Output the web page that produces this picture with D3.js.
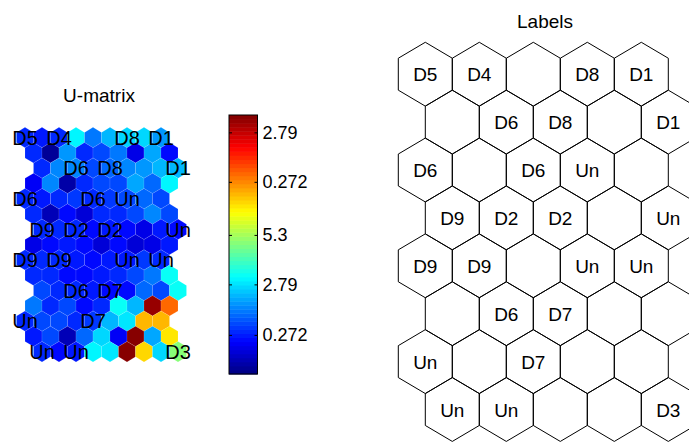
<!DOCTYPE html>
<html>
<head>
<meta charset="utf-8">
<script src="https://cdn.jsdelivr.net/npm/d3@7"></script>
<style>
  body { margin: 0; background: #fff; }
  svg { display: block; font-family: "Liberation Sans", Arial, Helvetica, sans-serif; }
</style>
</head>
<body>
<div id="chart"></div>
<script>
// U-matrix values (normalised 0..1), 15 rows x 9 columns
var umat = [
    [0.16, 0.15, 0.17, 0.37, 0.235, 0.30, 0.33, 0.34, 0.27],
    [0.16, 0.03, 0.27, 0.17, 0.20, 0.235, 0.095, 0.29, 0.14],
    [0.17, 0.265, 0.26, 0.20, 0.22, 0.265, 0.28, 0.30, 0.30],
    [0.11, 0.265, 0.04, 0.17, 0.19, 0.20, 0.29, 0.22, 0.37],
    [0.17, 0.15, 0.16, 0.18, 0.17, 0.18, 0.19, 0.22, 0.20],
    [0.16, 0.06, 0.14, 0.08, 0.16, 0.17, 0.20, 0.25, 0.19],
    [0.16, 0.16, 0.16, 0.14, 0.15, 0.13, 0.10, 0.15, 0.14],
    [0.10, 0.14, 0.15, 0.13, 0.08, 0.14, 0.08, 0.10, 0.15],
    [0.16, 0.17, 0.16, 0.15, 0.14, 0.15, 0.15, 0.18, 0.17],
    [0.16, 0.16, 0.14, 0.14, 0.15, 0.17, 0.20, 0.235, 0.38],
    [0.19, 0.17, 0.16, 0.15, 0.14, 0.13, 0.22, 0.19, 0.385],
    [0.235, 0.16, 0.20, 0.13, 0.17, 0.375, 0.30, 0.98, 0.78],
    [0.16, 0.19, 0.19, 0.17, 0.18, 0.31, 0.345, 0.70, 0.69],
    [0.155, 0.19, 0.047, 0.22, 0.33, 0.11, 0.99, 0.29, 0.655],
    [0.16, 0.125, 0.15, 0.36, 0.345, 1.0, 0.663, 0.33, 0.50]
];

// unit labels, 8 rows x 5 columns of the map
var labels = [
    ["D5", "D4", "", "D8", "D1"],
    ["", "D6", "D8", "", "D1"],
    ["D6", "", "D6", "Un", ""],
    ["D9", "D2", "D2", "", "Un"],
    ["D9", "D9", "", "Un", "Un"],
    ["", "D6", "D7", "", ""],
    ["Un", "", "D7", "", ""],
    ["Un", "Un", "", "", "D3"]
];

// colorbar ticks (position in value range) and their printed labels
var cbar_ticks = [0.151, 0.346, 0.537, 0.742, 0.933];
var cbar_labels = ["0.272", "2.79", "5.3", "0.272", "2.79"];

var width = 689, height = 443;

var svg = d3.select("#chart").append("svg")
    .attr("width", width)
    .attr("height", height);

// matlab style jet colormap, 64 levels
function jet(t) {
    t = Math.max(0, Math.min(1, t));
    var k = Math.min(63, Math.floor(t * 64));
    var v = (k + 0.5) / 64;
    function c(x) { return Math.round(255 * Math.max(0, Math.min(1, x))); }
    return d3.rgb(c(1.5 - Math.abs(4 * v - 3)), c(1.5 - Math.abs(4 * v - 2)), c(1.5 - Math.abs(4 * v - 1))).toString();
}
var color = d3.scaleSequential(jet).domain([0, 1]);

function hex(cx, cy, w, h) {
    var p = [[cx, cy - h], [cx + w / 2, cy - h / 2], [cx + w / 2, cy + h / 2],
             [cx, cy + h], [cx - w / 2, cy + h / 2], [cx - w / 2, cy - h / 2]];
    return "M" + p.join("L") + "Z";
}

// ---- U-matrix ----
var xU = d3.scaleLinear().domain([0, 8]).range([25, 161]);
var yU = d3.scaleLinear().domain([0, 14]).range([137.5, 351.7]);
var wU = xU(1) - xU(0), hU = (yU(1) - yU(0)) * 2 / 3;

function u_shift(r) {
    if (r % 2 == 1) return 0.5;
    return (r / 2) % 2 == 1 ? 1 : 0;
}

var cells = [];
umat.forEach(function(row, r) {
    row.forEach(function(v, c) {
        cells.push({r: r, c: c, v: v});
    });
});

var gU = svg.append("g");
gU.selectAll("path")
    .data(cells)
    .enter()
    .append("path")
    .attr("d", function(d) {
        return hex(xU(d.c + u_shift(d.r)), yU(d.r), wU, hU);
    })
    .attr("fill", function(d) { return color(d.v); })
    .attr("stroke", "rgba(255,255,255,0.18)")
    .attr("stroke-width", 0.6);

var units = [];
labels.forEach(function(row, r) {
    row.forEach(function(s, c) {
        units.push({r: r, c: c, s: s});
    });
});

gU.selectAll("text")
    .data(units.filter(function(d) { return d.s != ""; }))
    .enter()
    .append("text")
    .attr("x", function(d) { return xU(2 * d.c + u_shift(2 * d.r)); })
    .attr("y", function(d) { return yU(2 * d.r); })
    .attr("dy", "0.36em")
    .attr("text-anchor", "middle")
    .attr("font-size", 20)
    .attr("fill", "#000")
    .text(function(d) { return d.s; });

svg.append("text")
    .attr("x", 99)
    .attr("y", 101.5)
    .attr("text-anchor", "middle")
    .attr("font-size", 19)
    .text("U-matrix");

// ---- colorbar ----
var cb = {x0: 229, x1: 257.5};
var yC = d3.scaleLinear().domain([0, 1]).range([374, 115]);
var gC = svg.append("g");
gC.selectAll("rect")
    .data(d3.range(64))
    .enter()
    .append("rect")
    .attr("x", cb.x0)
    .attr("width", cb.x1 - cb.x0)
    .attr("y", function(k) { return yC((k + 1) / 64); })
    .attr("height", function(k) { return yC(k / 64) - yC((k + 1) / 64) + 0.5; })
    .attr("fill", function(k) { return color((k + 0.5) / 64); });

gC.append("rect")
    .attr("x", cb.x0)
    .attr("y", yC(1))
    .attr("width", cb.x1 - cb.x0)
    .attr("height", yC(0) - yC(1))
    .attr("fill", "none")
    .attr("stroke", "#000")
    .attr("stroke-width", 1);

var axR = gC.append("g")
    .attr("transform", "translate(" + cb.x1 + ",0)")
    .call(d3.axisRight(yC).tickValues(cbar_ticks)
        .tickFormat(function(d, i) { return cbar_labels[i]; })
        .tickSize(-3).tickPadding(5));
var axL = gC.append("g")
    .attr("transform", "translate(" + cb.x0 + ",0)")
    .call(d3.axisLeft(yC).tickValues(cbar_ticks).tickFormat("").tickSize(-3));
[axR, axL].forEach(function(a) {
    a.select(".domain").remove();
    a.selectAll("line").attr("stroke", "#000");
});
axR.selectAll("text")
    .attr("font-size", 18)
    .attr("font-family", "Liberation Sans, Arial, sans-serif")
    .attr("fill", "#000");

// ---- labels map ----
var xL = d3.scaleLinear().domain([0, 4]).range([425.3, 641.3]);
var yL = d3.scaleLinear().domain([0, 7]).range([74.2, 409.5]);
var wL = xL(1) - xL(0), hL = (yL(1) - yL(0)) * 2 / 3;

var gL = svg.append("g");
gL.selectAll("path")
    .data(units)
    .enter()
    .append("path")
    .attr("d", function(d) {
        return hex(xL(d.c + (d.r % 2) * 0.5), yL(d.r), wL, hL);
    })
    .attr("fill", "none")
    .attr("stroke", "#000")
    .attr("stroke-width", 1);

gL.selectAll("text")
    .data(units.filter(function(d) { return d.s != ""; }))
    .enter()
    .append("text")
    .attr("x", function(d) { return xL(d.c + (d.r % 2) * 0.5); })
    .attr("y", function(d) { return yL(d.r); })
    .attr("dy", "0.38em")
    .attr("text-anchor", "middle")
    .attr("font-size", 19)
    .text(function(d) { return d.s; });

svg.append("text")
    .attr("x", 545)
    .attr("y", 28.3)
    .attr("text-anchor", "middle")
    .attr("font-size", 19)
    .text("Labels");
</script>
</body>
</html>
